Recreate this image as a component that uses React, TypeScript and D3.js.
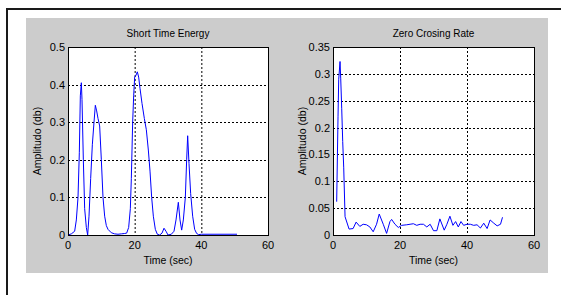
import React, { useEffect, useRef } from "react";
import * as d3 from "d3";

// Short time energy (time in sec, value)
const steTime = [0, 1, 2, 2.5, 3, 3.4, 3.7, 4.0, 4.2, 4.6, 5.0, 5.5, 5.9, 6.3, 6.8, 7.3, 7.8, 8.2, 8.6, 9.0, 9.5, 10.0, 10.5, 11.0, 11.5, 12.0, 13.0, 14.0, 15.0, 16.0, 17.0, 17.6, 18.2, 18.7, 19.0, 19.4, 19.7, 20.0, 20.4, 20.8, 21.2, 21.6, 22.2, 22.9, 23.5, 24.1, 24.6, 25.1, 25.6, 26.2, 26.8, 27.5, 28.2, 28.8, 29.4, 30.0, 31.0, 31.8, 32.4, 33.1, 33.6, 34.1, 34.6, 35.2, 35.6, 35.9, 36.3, 36.8, 37.4, 38.0, 38.6, 39.2, 40.0, 42.0, 45.0, 48.0, 50.7];
const steValue = [0, 0.003, 0.01, 0.04, 0.1, 0.22, 0.37, 0.405, 0.36, 0.2, 0.07, 0.02, 0.0, 0.05, 0.15, 0.24, 0.3, 0.345, 0.33, 0.31, 0.29, 0.2, 0.1, 0.05, 0.025, 0.015, 0.006, 0.003, 0.002, 0.003, 0.004, 0.005, 0.02, 0.07, 0.15, 0.3, 0.37, 0.42, 0.425, 0.434, 0.42, 0.39, 0.35, 0.31, 0.28, 0.226, 0.17, 0.1, 0.05, 0.015, 0.002, 0.0, 0.005, 0.018, 0.01, 0.0, 0.002, 0.01, 0.04, 0.087, 0.04, 0.013, 0.04, 0.1, 0.2, 0.264, 0.19, 0.11, 0.05, 0.015, 0.004, 0.001, 0.002, 0.002, 0.002, 0.002, 0.002];

// Zero crossing rate
const zcrTime = [1.1, 1.5, 1.7, 2.1, 2.3, 2.6, 2.9, 3.2, 3.6, 4.8, 6.0, 6.9, 8.0, 9.0, 10.0, 11.0, 12.0, 13.0, 13.8, 15.0, 16.0, 17.0, 17.5, 18.5, 19.5, 20.5, 22.0, 23.0, 24.0, 25.0, 26.0, 27.0, 28.0, 29.0, 30.0, 31.0, 31.9, 33.2, 34.0, 34.9, 35.8, 36.6, 37.4, 38.2, 39.0, 40.0, 41.0, 42.0, 43.0, 44.0, 45.0, 46.0, 46.9, 48.0, 49.0, 50.0, 50.6];
const zcrValue = [0.062, 0.22, 0.289, 0.323, 0.292, 0.236, 0.174, 0.125, 0.034, 0.011, 0.012, 0.024, 0.016, 0.02, 0.019, 0.015, 0.006, 0.02, 0.039, 0.02, 0.003, 0.025, 0.029, 0.02, 0.014, 0.018, 0.019, 0.02, 0.021, 0.018, 0.02, 0.02, 0.015, 0.02, 0.008, 0.008, 0.03, 0.009, 0.02, 0.035, 0.018, 0.025, 0.015, 0.025, 0.018, 0.02, 0.02, 0.018, 0.019, 0.013, 0.022, 0.012, 0.028, 0.022, 0.017, 0.02, 0.033];

const xTicks = [0, 20, 40, 60];
const steTicks = [0, 0.1, 0.2, 0.3, 0.4, 0.5];
const zcrTicks = [0, 0.05, 0.1, 0.15, 0.2, 0.25, 0.3, 0.35];

const FONT = "'Liberation Sans', Arial, sans-serif";

export default function App() {
  const ref = useRef<SVGSVGElement>(null);

  useEffect(() => {
    const svg = d3.select(ref.current);
    svg.selectAll("*").remove();

    // outer frame (only top & left visible)
    svg.append("rect").attr("x", 0).attr("y", 0).attr("width", 561).attr("height", 295).attr("fill", "#fff");
    svg.append("path").attr("d", "M7,295 V9 H561").attr("fill", "none").attr("stroke", "#1a1a1a").attr("stroke-width", 2);
    svg.append("rect").attr("x", 26).attr("y", 18).attr("width", 522).attr("height", 255).attr("fill", "#cccccc");

    const drawPanel = (
      left: number,
      right: number,
      title: string,
      times: number[],
      values: number[],
      yTicks: number[],
      yMax: number,
      fmt: (v: number) => string
    ) => {
      const top = 47;
      const bottom = 235;
      const x = d3.scaleLinear().domain([0, 60]).range([left, right]);
      const y = d3.scaleLinear().domain([0, yMax]).range([bottom, top]);
      const g = svg.append("g");

      g.append("rect").attr("x", left).attr("y", top).attr("width", right - left).attr("height", bottom - top).attr("fill", "#fff");

      // grid
      g.selectAll(".gx").data(xTicks.slice(1, -1)).enter().append("line")
        .attr("x1", (d) => x(d)).attr("x2", (d) => x(d)).attr("y1", top).attr("y2", bottom)
        .attr("stroke", "#000").attr("stroke-dasharray", "2,2").attr("stroke-width", 1)
        .attr("transform", "translate(0.5,0)");
      g.selectAll(".gy").data(yTicks.slice(1, -1)).enter().append("line")
        .attr("y1", (d) => Math.round(y(d)) + 0.5).attr("y2", (d) => Math.round(y(d)) + 0.5).attr("x1", left).attr("x2", right)
        .attr("stroke", "#000").attr("stroke-dasharray", "2,2").attr("stroke-width", 1);

      // data line
      const line = d3.line<number>().x((_, i) => x(times[i])).y((d) => y(d));
      g.append("path").datum(values).attr("d", line).attr("fill", "none").attr("stroke", "#0000ff").attr("stroke-width", 1);

      // box
      g.append("rect").attr("x", left + 0.5).attr("y", top + 0.5).attr("width", right - left).attr("height", bottom - top)
        .attr("fill", "none").attr("stroke", "#000").attr("stroke-width", 1);

      // tick labels
      g.selectAll(".ty").data(yTicks).enter().append("text")
        .attr("x", left - 3).attr("y", (d) => y(d) + 4).attr("text-anchor", "end")
        .attr("font-family", FONT).attr("font-size", 11).attr("fill", "#000").text((d) => fmt(d));
      g.selectAll(".tx").data(xTicks).enter().append("text")
        .attr("x", (d) => x(d)).attr("y", bottom + 14).attr("text-anchor", "middle")
        .attr("font-family", FONT).attr("font-size", 11).attr("fill", "#000").text((d) => String(d));

      g.append("text").attr("x", (left + right) / 2).attr("y", 37).attr("text-anchor", "middle")
        .attr("font-family", FONT).attr("font-size", 10).attr("fill", "#000").text(title);
      g.append("text").attr("x", (left + right) / 2).attr("y", 264).attr("text-anchor", "middle")
        .attr("font-family", FONT).attr("font-size", 10.5).attr("fill", "#000").text("Time (sec)");
      g.append("text").attr("transform", `translate(${left - 27},${(top + bottom) / 2}) rotate(-90)`)
        .attr("text-anchor", "middle").attr("font-family", FONT).attr("font-size", 10.5).attr("fill", "#000")
        .text("Amplitudo (db)");
    };

    drawPanel(68, 268, "Short Time Energy", steTime, steValue, steTicks, 0.5, (d) => (d === 0 ? "0" : String(d)));
    drawPanel(333, 534, "Zero Crosing Rate", zcrTime, zcrValue, zcrTicks, 0.35, (d) => (d === 0 ? "0" : String(d)));
  }, []);

  return (
    <svg ref={ref} width={561} height={295} style={{ position: "absolute", left: 0, top: 0 }} />
  );
}
